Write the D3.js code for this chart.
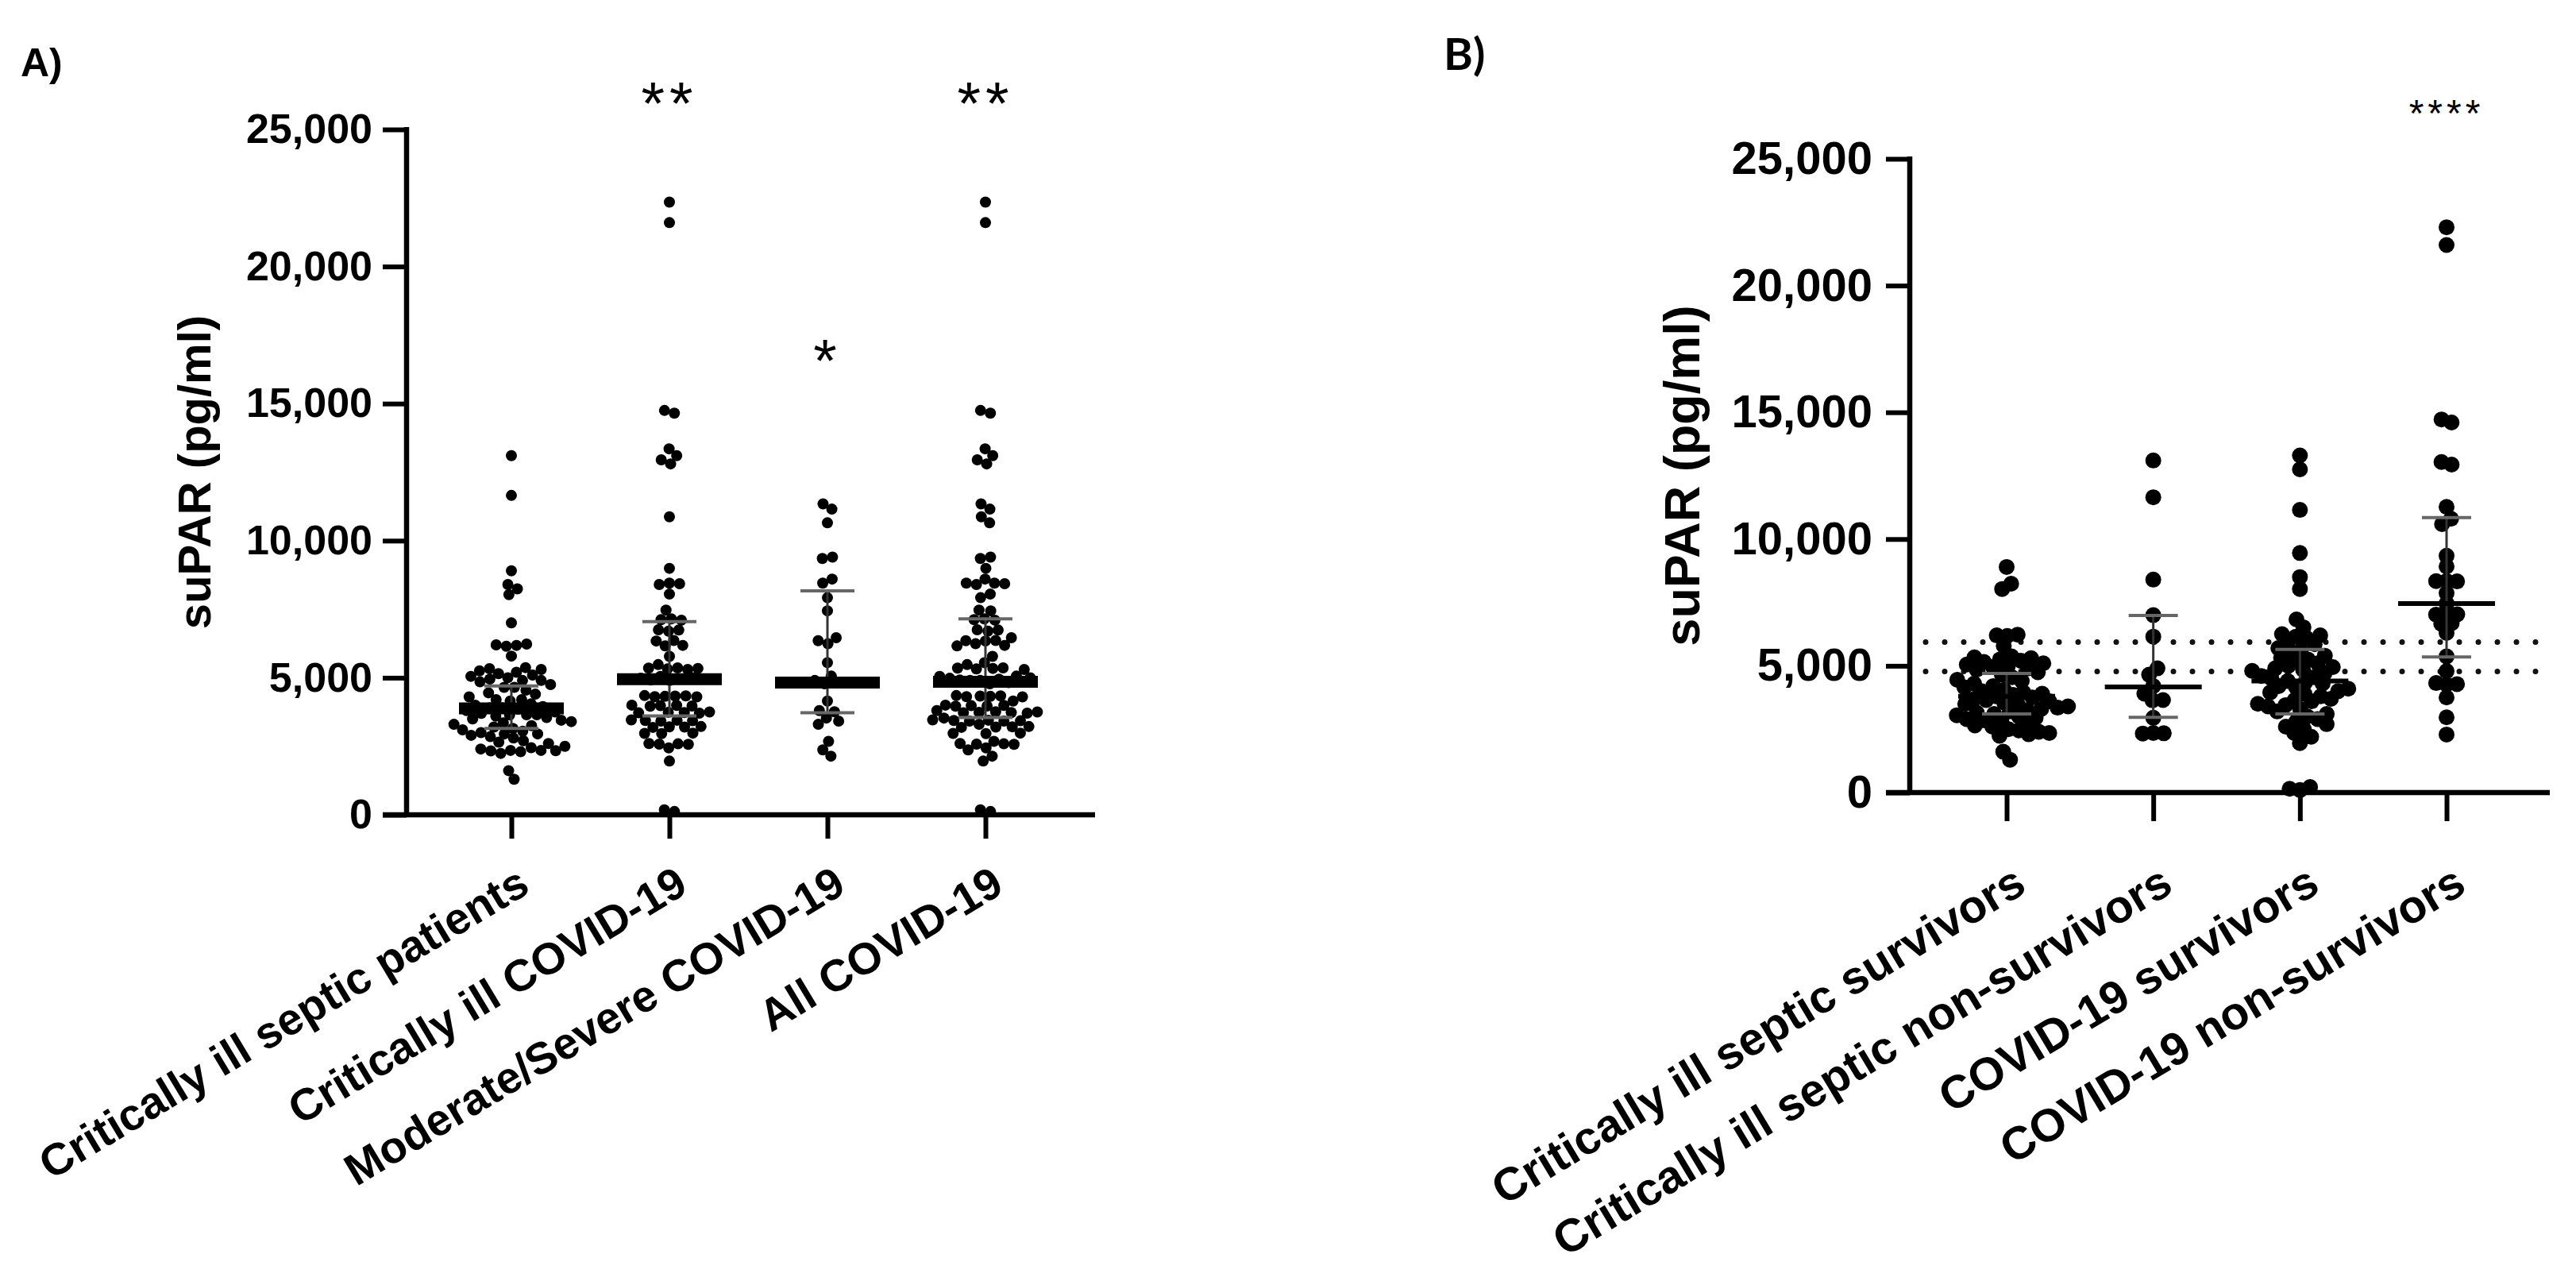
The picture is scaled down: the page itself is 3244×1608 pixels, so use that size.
<!DOCTYPE html>
<html>
<head>
<meta charset="utf-8">
<script src="https://cdn.jsdelivr.net/npm/d3@7"></script>
<style>
  body { margin: 0; background: #fff; }
  svg { display: block; }
</style>
</head>
<body>
<div id="chart"></div>
<script>
// ---- data (suPAR, pg/ml) ----
var groupsA = ["Critically ill septic patients", "Critically ill COVID-19", "Moderate/Severe COVID-19", "All COVID-19"];
var groupsB = ["Critically ill septic survivors", "Critically ill septic non-survivors", "COVID-19 survivors", "COVID-19 non-survivors"];

var septicSurvivors = [8900, 8240, 8030, 6230, 6200, 6180, 5790,
  5370, 5330, 5300, 5250, 5200, 5150, 5100, 5050, 5000, 4950, 4900, 4850, 4750, 4650, 4550, 4450,
  4400, 4300, 4200, 4150, 4050, 4000, 3950, 3900, 3850, 3800, 3750, 3700, 3650, 3600, 3550, 3500,
  3450, 3400, 3350, 3300, 3250, 3200, 3150, 3100, 3050, 3000, 2950, 2900, 2850, 2800, 2700, 2650,
  2600, 2500, 2450, 2400, 2350, 2300, 2240, 1610, 1295];
var septicNonSurvivors = [13100, 11650, 8400, 7000, 6150, 4900, 4650, 4200, 3900, 3650, 3640, 2950, 2350, 2340, 2330];

var critCovid = [22350, 21600, 14750, 14650, 13350, 13100, 12950, 12800, 10870, 8990, 8450, 8430,
  8400, 8050, 7470, 7150, 7120, 7100, 6750, 6740, 6700, 6360, 6340, 6180, 6160, 5780, 5480, 5360,
  5350, 5340, 5320, 5300, 5050, 5000, 4980, 4950, 4920, 4900, 4350, 4340, 4330, 4320, 4310, 4300,
  4000, 3990, 3980, 3970, 3960, 3750, 3740, 3730, 3720, 3710, 3460, 3450, 3440, 3430, 3420, 3220,
  3210, 3200, 3190, 2980, 2970, 2960, 2600, 2590, 2580, 2570, 2440, 1960, 180, 120];
var modCovid = [11340, 11150, 10650, 9400, 9350, 8600, 8450, 7920, 7440, 6460, 6350, 6240, 5550,
  5060, 4900, 4820, 4780, 4150, 3800, 3760, 3530, 3420, 3300, 2680, 2370, 2140];

var covidSurvivors = [13300, 12750, 11150, 9450, 8500, 8030, 6830, 6520, 6250, 6200, 6150, 6100,
  5900, 5850, 5700, 5600, 5500, 5400, 5300, 5250, 5200, 5100, 5000, 4950, 4900, 4850, 4800, 4700,
  4600, 4550, 4500, 4400, 4350, 4300, 4200, 4150, 4100, 4000, 3950, 3900, 3800, 3700, 3650, 3600,
  3500, 3450, 3400, 3300, 3200, 3100, 3000, 2900, 2800, 2700, 2600, 2500, 2350, 2200, 1950, 220, 150, 100];
var covidNonSurvivors = [22300, 21600, 14720, 14600, 13040, 12940, 11270, 10800, 10590, 9340, 8920,
  8350, 8340, 8330, 7870, 7460, 7040, 7030, 7020, 6680, 6660, 6300, 5370, 4790, 4320, 4280, 4260, 3750, 2970, 2290];

// median and interquartile range shown on each group
var medianA = [3880, 4950, 4820, 4850];
var q1A = [3150, 3610, 3720, 3550];
var q3A = [4700, 7050, 8170, 7150];
var medianB = [3800, 4170, 4400, 7460];
var q1B = [3100, 2965, 3100, 5350];
var q3B = [4700, 6990, 5650, 10850];

var starsA = ["", "**", "*", "**"];
var starsB = ["", "", "", "****"];
var starLevelA = [0, 26400, 17000, 26400];
var starLevelB = [0, 0, 0, 27100];

var refLinesB = [5940, 4780];
var yTicks = [0, 5000, 10000, 15000, 20000, 25000];

// All COVID-19 = critically ill + moderate/severe patients
var seriesA = [septicSurvivors.concat(septicNonSurvivors), critCovid, modCovid, critCovid.concat(modCovid)];
var seriesB = [septicSurvivors, septicNonSurvivors, covidSurvivors, covidNonSurvivors];

var width = 3244, height = 1608;
var font = "Arial, 'Liberation Sans', Helvetica, sans-serif";

var svg = d3.select("#chart").append("svg")
  .attr("width", width)
  .attr("height", height);

// simple beeswarm: y is fixed by the value, x is pushed apart by collisions
function swarm(values, cx, y, rc, pull) {
  var nodes = values.map(function (v, i) {
    return { v: v, x: cx + (i % 2 ? 1 : -1) * (i % 5), y: y(v), fy: y(v) };
  });
  var sim = d3.forceSimulation(nodes)
    .force("x", d3.forceX(cx).strength(pull))
    .force("collide", d3.forceCollide(rc).iterations(4))
    .stop();
  for (var k = 0; k < 300; k++) sim.tick();
  return nodes;
}

function drawPanel(opt) {
  var g = svg.append("g");
  var y = d3.scaleLinear().domain([0, 25000]).range([opt.y0, opt.yTop]);
  var x = d3.scalePoint().domain(opt.groups).range(opt.xRange);

  // dotted reference lines
  (opt.refLines || []).forEach(function (v) {
    g.append("line")
      .attr("x1", opt.axisX + 20).attr("x2", opt.xEnd)
      .attr("y1", y(v)).attr("y2", y(v))
      .attr("stroke", "#111")
      .attr("stroke-width", 7)
      .attr("stroke-linecap", "round")
      .attr("stroke-dasharray", "0 24");
  });

  // dots
  opt.series.forEach(function (vals, i) {
    var nodes = swarm(vals, x(opt.groups[i]), y, opt.r * opt.pack, opt.pull);
    g.append("g").selectAll("circle")
      .data(nodes)
      .enter().append("circle")
      .attr("cx", function (d) { return d.x; })
      .attr("cy", function (d) { return d.y; })
      .attr("r", opt.r)
      .attr("fill", "#000");
  });

  // median with interquartile range
  opt.groups.forEach(function (name, i) {
    var cx = x(name);
    g.append("line")
      .attr("x1", cx).attr("x2", cx)
      .attr("y1", y(opt.q1[i])).attr("y2", y(opt.q3[i]))
      .attr("stroke", "#333").attr("stroke-width", 3);
    [opt.q1[i], opt.q3[i]].forEach(function (q) {
      g.append("line")
        .attr("x1", cx - opt.capW).attr("x2", cx + opt.capW)
        .attr("y1", y(q)).attr("y2", y(q))
        .attr("stroke", "#666").attr("stroke-width", 4);
    });
    g.append("line")
      .attr("x1", cx - opt.medW).attr("x2", cx + opt.medW)
      .attr("y1", y(opt.median[i])).attr("y2", y(opt.median[i]))
      .attr("stroke", "#000").attr("stroke-width", opt.medT);

    if (opt.stars[i]) {
      g.append("text")
        .attr("x", cx).attr("y", y(opt.starLevel[i]))
        .attr("dy", "0.54em")
        .attr("text-anchor", "middle")
        .attr("font-family", font)
        .attr("font-size", opt.starSize)
        .attr("letter-spacing", opt.starGap)
        .text(opt.stars[i]);
    }
  });

  // y axis
  var yAxis = g.append("g")
    .attr("transform", "translate(" + opt.axisX + ",0)")
    .call(d3.axisLeft(y).tickValues(yTicks).tickSize(30).tickPadding(opt.tickPad).tickFormat(d3.format(",")));
  yAxis.select(".domain").remove();
  yAxis.selectAll(".tick line").attr("stroke", "#000").attr("stroke-width", 6);
  yAxis.selectAll(".tick text")
    .attr("font-family", font).attr("font-weight", "bold")
    .attr("font-size", opt.tickFont).attr("fill", "#000");

  g.append("line")
    .attr("x1", opt.axisX).attr("x2", opt.axisX)
    .attr("y1", y(25000) - 3).attr("y2", y(0))
    .attr("stroke", "#000").attr("stroke-width", 6.5);

  // x axis
  var xAxis = g.append("g")
    .attr("transform", "translate(0," + opt.y0 + ")")
    .call(d3.axisBottom(x).tickSize(opt.xTick).tickFormat(""));
  xAxis.select(".domain").remove();
  xAxis.selectAll(".tick line").attr("stroke", "#000").attr("stroke-width", 6);

  g.append("line")
    .attr("x1", opt.axisX - 30).attr("x2", opt.xEnd)
    .attr("y1", opt.y0).attr("y2", opt.y0)
    .attr("stroke", "#000").attr("stroke-width", 6.5);

  g.selectAll(".xlab")
    .data(opt.groups)
    .enter().append("text")
    .attr("class", "xlab")
    .attr("transform", function (d) {
      return "translate(" + (x(d) + opt.labDx) + "," + (opt.y0 + opt.labDy) + ") rotate(-31)";
    })
    .attr("dy", "0.72em")
    .attr("text-anchor", "end")
    .attr("font-family", font).attr("font-weight", "bold")
    .attr("font-size", opt.labFont)
    .text(function (d) { return d; });

  // y title
  g.append("text")
    .attr("transform", "translate(" + opt.titleX + "," + ((opt.y0 + opt.yTop) / 2) + ") rotate(-90)")
    .attr("text-anchor", "middle")
    .attr("font-family", font).attr("font-weight", "bold")
    .attr("font-size", opt.titleFont)
    .text("suPAR (pg/ml)");

  // panel letter
  g.append("text")
    .attr("x", opt.letterX).attr("y", opt.letterY)
    .attr("font-family", opt.letterFont).attr("font-weight", "bold")
    .attr("font-size", opt.letterSize)
    .text(opt.letter);
}

drawPanel({
  groups: groupsA, series: seriesA,
  median: medianA, q1: q1A, q3: q3A,
  stars: starsA, starLevel: starLevelA, starSize: 76, starGap: 6,
  y0: 1026, yTop: 163, axisX: 512, xEnd: 1379, xRange: [644, 1241],
  r: 7, pack: 0.92, pull: 0.08, medW: 66, medT: 15, capW: 34,
  tickFont: 52, tickPad: 13, xTick: 30,
  labFont: 56, labDx: 5, labDy: 62,
  titleFont: 58, titleX: 265,
  letter: "A)", letterX: 26, letterY: 96, letterFont: font, letterSize: 50
});

drawPanel({
  groups: groupsB, series: seriesB,
  median: medianB, q1: q1B, q3: q3B,
  stars: starsB, starLevel: starLevelB, starSize: 48, starGap: 5,
  refLines: refLinesB,
  y0: 998, yTop: 200, axisX: 2405, xEnd: 3211, xRange: [2527, 3081],
  r: 10, pack: 0.66, pull: 0.12, medW: 61, medT: 6, capW: 31,
  tickFont: 58, tickPad: 17, xTick: 36,
  labFont: 58, labDx: 6, labDy: 88,
  titleFont: 63, titleX: 2140,
  letter: "B)", letterX: 1818, letterY: 88, letterFont: "Lato, 'Open Sans', sans-serif", letterSize: 56
});
</script>
</body>
</html>
